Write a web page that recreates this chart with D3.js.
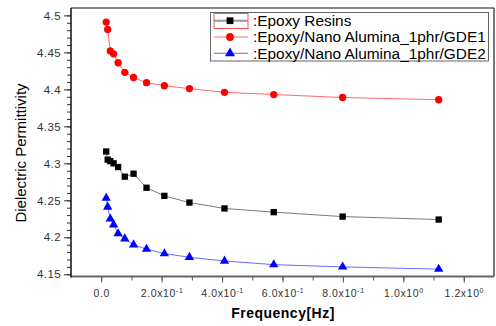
<!DOCTYPE html>
<html>
<head>
<meta charset="utf-8">
<script src="https://cdn.jsdelivr.net/npm/d3@7"></script>
<style>
  body { margin: 0; background: #fff; }
  svg { font-family: "Liberation Sans", Arial, sans-serif; }
</style>
</head>
<body>
<svg id="chart" width="496" height="326"></svg>
<script>
// Frequency (Hz)
const freq = [0.0165, 0.0215, 0.030, 0.041, 0.056, 0.078, 0.107, 0.150, 0.209, 0.292, 0.408, 0.571, 0.799, 1.117];
const epoxyResins = [4.316, 4.305, 4.303, 4.300, 4.295, 4.282, 4.286, 4.267, 4.256, 4.247, 4.239, 4.234, 4.228, 4.224];
const gde1 = [4.491, 4.481, 4.452, 4.448, 4.436, 4.423, 4.416, 4.409, 4.405, 4.401, 4.396, 4.393, 4.389, 4.386];
const gde2 = [4.253, 4.241, 4.225, 4.217, 4.205, 4.198, 4.190, 4.184, 4.178, 4.173, 4.168, 4.163, 4.160, 4.157];
const seriesNames = [':Epoxy Resins', ':Epoxy/Nano Alumina_1phr/GDE1', ':Epoxy/Nano Alumina_1phr/GDE2'];
const xTicks = [0, 0.2, 0.4, 0.6, 0.8, 1.0, 1.2];
const yTicks = [4.15, 4.2, 4.25, 4.3, 4.35, 4.4, 4.45, 4.5];

const svg = d3.select('#chart');
const plotL = 71, plotR = 494, plotT = 8, plotB = 276.5;

const x = d3.scaleLinear().domain([-0.1, 1.3]).range([plotL, plotR]);
const y = d3.scaleLinear().domain([4.147, 4.51]).range([plotB, plotT]);

const series = [
    { name: seriesNames[0], values: epoxyResins, line: '#7a7a7a', fill: '#000', shape: d3.symbolSquare, size: 40 },
    { name: seriesNames[1], values: gde1, line: '#ff6a6a', fill: '#ff0000', shape: d3.symbolCircle, size: 42 },
    { name: seriesNames[2], values: gde2, line: '#6a6aff', fill: '#0000ff', shape: d3.symbolTriangle, size: 38 }
];

// Y axis with minor ticks
const yMinor = d3.range(4.15, 4.505, 0.01);
svg.append('g')
    .attr('transform', `translate(${plotL},0)`)
    .call(d3.axisLeft(y).tickValues(yMinor).tickSize(4).tickFormat(''))
    .call(g => g.select('.domain').remove())
    .selectAll('line').attr('stroke', '#333');

const yAxis = svg.append('g')
    .attr('transform', `translate(${plotL},0)`)
    .call(d3.axisLeft(y).tickValues(yTicks).tickSize(7).tickPadding(3).tickFormat(d => d3.format('')(+d.toFixed(2))));
yAxis.select('.domain').remove();
yAxis.selectAll('line').attr('stroke', '#333');
yAxis.selectAll('text')
    .style('font-size', '11.5px')
    .style('letter-spacing', '0.4px')
    .attr('fill', '#333');

// X axis with minor ticks
const xMinor = d3.range(0, 1.25, 0.1);
svg.append('g')
    .attr('transform', `translate(0,${plotB})`)
    .call(d3.axisBottom(x).tickValues(xMinor).tickSize(4).tickFormat(''))
    .call(g => g.select('.domain').remove())
    .selectAll('line').attr('stroke', '#555');

const xAxis = svg.append('g')
    .attr('transform', `translate(0,${plotB})`)
    .call(d3.axisBottom(x).tickValues(xTicks).tickSize(6).tickPadding(5).tickFormat(''));
xAxis.select('.domain').remove();
xAxis.selectAll('line').attr('stroke', '#555');
xAxis.selectAll('.tick').append('text')
    .attr('y', 20)
    .attr('fill', '#333')
    .attr('text-anchor', 'middle')
    .style('font-size', '10.5px')
    .style('letter-spacing', '0.6px')
    .each(function(d) {
        const t = d3.select(this);
        if (d === 0) { t.text('0.0'); return; }
        const exp = Math.floor(Math.log10(d) + 1e-9);
        const mant = (d / Math.pow(10, exp)).toFixed(1);
        t.append('tspan').text(mant + 'x10');
        t.append('tspan').attr('dy', -4).style('font-size', '7px').text(exp);
    });

// frame
svg.append('line').attr('x1', plotL).attr('x2', plotR).attr('y1', plotT).attr('y2', plotT)
    .attr('stroke', '#111').attr('stroke-width', 1.2);
svg.append('line').attr('x1', plotR).attr('x2', plotR).attr('y1', plotT).attr('y2', plotB)
    .attr('stroke', '#555').attr('stroke-width', 1.6);
svg.append('line').attr('x1', plotL).attr('x2', plotR).attr('y1', plotB).attr('y2', plotB)
    .attr('stroke', '#666').attr('stroke-width', 2);
svg.append('line').attr('x1', plotL).attr('x2', plotL).attr('y1', plotT).attr('y2', plotB + 1)
    .attr('stroke', '#111').attr('stroke-width', 1.5);

// lines + markers
const line = d3.line().x((d, i) => x(freq[i])).y(d => y(d));
series.forEach(s => {
    svg.append('path')
        .datum(s.values)
        .attr('d', line)
        .attr('fill', 'none')
        .attr('stroke', s.line)
        .attr('stroke-width', 1);
    svg.selectAll(null)
        .data(s.values)
        .enter()
        .append('path')
        .attr('transform', (d, i) => `translate(${x(freq[i])},${y(d)})`)
        .attr('d', d3.symbol().type(s.shape).size(s.size))
        .attr('fill', s.fill);
});

// legend
const legend = svg.append('g');
legend.append('rect')
    .attr('x', 210.5).attr('y', 12.5).attr('width', 278).attr('height', 48.5)
    .attr('fill', '#fff').attr('stroke', '#666').attr('stroke-width', 1);
legend.append('rect')
    .attr('x', 214).attr('y', 13.5).attr('width', 34).attr('height', 15)
    .attr('fill', 'none').attr('stroke', '#ff5050').attr('stroke-width', 1);
series.forEach((s, i) => {
    const ly = 20.7 + i * 16.3;
    legend.append('line')
        .attr('x1', 214).attr('x2', 248).attr('y1', ly).attr('y2', ly)
        .attr('stroke', i === 0 ? '#9a9a9a' : s.line).attr('stroke-width', i === 0 ? 2 : 1);
    legend.append('path')
        .attr('transform', `translate(230,${ly})`)
        .attr('d', d3.symbol().type(s.shape).size(s.size + 6))
        .attr('fill', s.fill);
    legend.append('text')
        .attr('x', 253).attr('y', ly + 5.3)
        .style('font-size', '15.4px')
        .attr('fill', '#000')
        .text(s.name);
});

// axis titles
svg.append('text')
    .attr('x', 283).attr('y', 318)
    .attr('text-anchor', 'middle')
    .style('font-size', '14px')
    .style('font-weight', 'bold')
    .style('letter-spacing', '0.5px')
    .text('Frequency[Hz]');

svg.append('text')
    .attr('transform', 'translate(26,153) rotate(-90)')
    .attr('text-anchor', 'middle')
    .style('font-size', '15px')
    .text('Dielectric Permittivity');
</script>
</body>
</html>
